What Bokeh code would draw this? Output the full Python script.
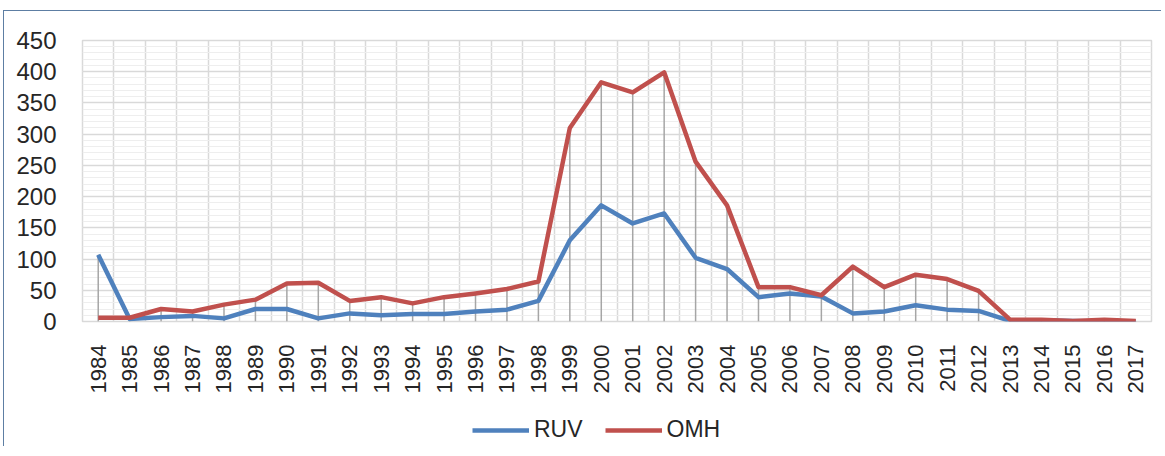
import math
from bokeh.plotting import figure
from bokeh.layouts import column
from bokeh.models import (Range1d, FixedTicker, SingleIntervalTicker, Legend, LegendItem,
                          ColumnDataSource)
from bokeh.embed import file_html
from bokeh.resources import INLINE

years = [str(y) for y in range(1984, 2018)]
ruv = [107, 4, 7, 9, 5, 20, 20, 5, 13, 10, 12, 12, 16, 19, 33,
       130, 186, 157, 173, 102, 84, 39, 45, 40, 13, 16, 26, 19, 17, 1,
       2, 1, 0, 0]
omh = [6, 6, 20, 16, 27, 35, 61, 62, 33, 39, 29, 39, 45, 52, 64,
       310, 383, 367, 399, 256, 186, 55, 55, 42, 88, 55, 75, 68, 49, 3,
       3, 1, 3, 1]
y_ticks = [0, 50, 100, 150, 200, 250, 300, 350, 400, 450]
series_names = ["RUV", "OMH"]

BLUE = "#4f81bd"
RED = "#c0504d"
FONT = "Liberation Sans"
TXT = "#262626"

xs = list(range(len(years)))
tops = [max(a, b) for a, b in zip(ruv, omh)]
src = ColumnDataSource(dict(x=xs, year=years, ruv=ruv, omh=omh, top=tops))

p = figure(frame_width=1069, frame_height=281,
           x_range=Range1d(-0.5, len(years) - 0.5),
           y_range=Range1d(y_ticks[0], y_ticks[-1]),
           output_backend="svg", toolbar_location=None,
           min_border_left=78, min_border_right=10, min_border_top=29,
           min_border_bottom=75)
p.outline_line_color = "#d9d9d9"
p.outline_line_width = 1.5
p.background_fill_color = "white"
p.border_fill_color = "white"

# grids
p.xgrid.ticker = FixedTicker(ticks=[i + 0.5 for i in xs[:-1]])
p.xgrid.grid_line_color = "#d9d9d9"
p.xgrid.grid_line_width = 1.5
p.ygrid.ticker = SingleIntervalTicker(interval=50, num_minor_ticks=5)
p.ygrid.grid_line_color = "#d9d9d9"
p.ygrid.grid_line_width = 1.5
p.ygrid.minor_grid_line_color = "#eeeeee"
p.ygrid.minor_grid_line_width = 1

# axes
p.yaxis.ticker = FixedTicker(ticks=y_ticks)
p.yaxis.axis_line_color = None
p.yaxis.major_tick_line_color = None
p.yaxis.minor_tick_line_color = None
p.yaxis.major_label_text_font = FONT
p.yaxis.major_label_text_font_size = "24px"
p.yaxis.major_label_text_color = TXT
p.yaxis.major_label_standoff = 20

p.xaxis.ticker = FixedTicker(ticks=xs)
p.xaxis.major_label_overrides = {i: y for i, y in zip(xs, years)}
p.xaxis.major_label_orientation = math.pi / 2
p.xaxis.axis_line_color = None
p.xaxis.major_tick_line_color = None
p.xaxis.minor_tick_line_color = None
p.xaxis.major_label_text_font = FONT
p.xaxis.major_label_text_font_size = "22px"
p.xaxis.major_label_text_color = TXT
p.xaxis.major_label_standoff = 17

# drop lines
p.segment(x0="x", y0=0, x1="x", y1="top", source=src, line_color="#a6a6a6", line_width=1.5)

p.line("x", "ruv", source=src, line_color=BLUE, line_width=4.5, line_join="round")
p.line("x", "omh", source=src, line_color=RED, line_width=4.5, line_join="round")

# legend strip below the chart (key renderers carry no visible data)
lg = figure(width=1157, height=50, output_backend="svg", toolbar_location=None,
            x_range=Range1d(0, 1), y_range=Range1d(0, 1),
            x_axis_location=None, y_axis_location=None,
            min_border_left=0, min_border_right=0, min_border_top=0, min_border_bottom=0)
lg.grid.visible = False
lg.outline_line_color = None
lg.border_fill_color = "white"
nan = float("nan")
k_ruv = lg.line(x=[nan], y=[nan], line_color=BLUE, line_width=4.5)
k_omh = lg.line(x=[nan], y=[nan], line_color=RED, line_width=4.5)
legend = Legend(items=[LegendItem(label=series_names[0], renderers=[k_ruv]),
                       LegendItem(label=series_names[1], renderers=[k_omh])],
                orientation="horizontal", location=(390, 3),
                glyph_width=57, glyph_height=20, label_standoff=5, spacing=22,
                padding=0, margin=0, border_line_color=None,
                background_fill_alpha=0,
                label_text_font=FONT, label_text_font_size="23px",
                label_text_color=TXT)
lg.add_layout(legend, "center")

layout = column(p, lg, spacing=0)
layout.styles = {"border-top": "1px solid #5d7ea3", "border-left": "1px solid #5d7ea3",
                 "margin-top": "10px", "margin-left": "3px"}

open("out.html", "w").write(file_html(layout, INLINE))
